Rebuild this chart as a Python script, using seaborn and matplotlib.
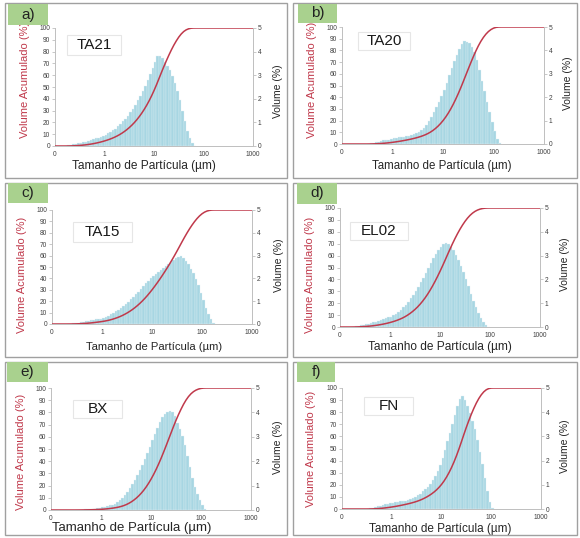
import numpy as np
import matplotlib.pyplot as plt
from matplotlib.patches import Rectangle
import seaborn as sns

# Volume (%) per size class, 20 classes per decade.
# *_from = log10 of the lower edge of the first class (µm)
ta21_from = -0.8
ta21_vol = [0.01, 0.03, 0.05, 0.07, 0.09, 0.11, 0.13, 0.16, 0.19, 0.22,
            0.25, 0.29, 0.32, 0.36, 0.40, 0.44, 0.48, 0.53, 0.59, 0.66,
            0.74, 0.83, 0.93, 1.04, 1.16, 1.29, 1.43, 1.58, 1.75, 1.93,
            2.12, 2.33, 2.55, 2.80, 3.05, 3.32, 3.58, 3.80, 3.82, 3.72,
            3.55, 3.40, 3.22, 2.95, 2.65, 2.35, 1.95, 1.50, 1.05, 0.65,
            0.35, 0.12, 0.02]

ta20_from = -0.5
ta20_vol = [0.02, 0.04, 0.06, 0.08, 0.10, 0.12, 0.15, 0.17, 0.19, 0.22,
            0.24, 0.26, 0.28, 0.30, 0.32, 0.34, 0.36, 0.39, 0.43, 0.48,
            0.53, 0.60, 0.70, 0.82, 0.97, 1.15, 1.35, 1.57, 1.80, 2.05,
            2.32, 2.62, 2.93, 3.25, 3.55, 3.80, 4.05, 4.28, 4.40, 4.38,
            4.30, 4.15, 3.92, 3.58, 3.15, 2.70, 2.25, 1.80, 1.35, 0.95,
            0.55, 0.22, 0.04]

ta15_from = -0.7
ta15_vol = [0.01, 0.02, 0.03, 0.05, 0.06, 0.08, 0.10, 0.12, 0.14, 0.16,
            0.18, 0.20, 0.21, 0.23, 0.26, 0.31, 0.37, 0.43, 0.50, 0.56,
            0.63, 0.71, 0.80, 0.89, 0.98, 1.08, 1.19, 1.31, 1.42, 1.54,
            1.66, 1.78, 1.90, 2.01, 2.11, 2.20, 2.28, 2.37, 2.45, 2.53,
            2.61, 2.70, 2.79, 2.88, 2.96, 2.97, 2.90, 2.78, 2.62, 2.43,
            2.22, 1.98, 1.70, 1.38, 1.05, 0.72, 0.42, 0.20, 0.05]

el02_from = -0.8
el02_vol = [0.01, 0.02, 0.04, 0.06, 0.08, 0.10, 0.12, 0.14, 0.17, 0.20,
            0.23, 0.26, 0.29, 0.32, 0.36, 0.40, 0.44, 0.49, 0.55, 0.62,
            0.71, 0.82, 0.94, 1.07, 1.20, 1.33, 1.50, 1.68, 1.87, 2.06,
            2.27, 2.48, 2.69, 2.89, 3.07, 3.22, 3.36, 3.48, 3.54, 3.50,
            3.38, 3.22, 3.02, 2.80, 2.56, 2.31, 2.02, 1.72, 1.40, 1.10,
            0.82, 0.58, 0.38, 0.22, 0.09, 0.02]

bx_from = -0.5
bx_vol = [0.01, 0.02, 0.02, 0.03, 0.03, 0.04, 0.05, 0.06, 0.07, 0.09,
          0.11, 0.13, 0.16, 0.19, 0.22, 0.26, 0.31, 0.39, 0.49, 0.61,
          0.75, 0.90, 1.06, 1.23, 1.42, 1.62, 1.84, 2.08, 2.34, 2.60,
          2.85, 3.10, 3.35, 3.60, 3.80, 3.95, 4.03, 4.07, 4.02, 3.85,
          3.58, 3.30, 3.05, 2.65, 2.20, 1.75, 1.32, 0.95, 0.65, 0.40,
          0.20, 0.06]

fn_from = -0.5
fn_vol = [0.02, 0.04, 0.06, 0.09, 0.11, 0.14, 0.16, 0.19, 0.21, 0.23,
          0.25, 0.27, 0.29, 0.31, 0.33, 0.35, 0.37, 0.40, 0.44, 0.49,
          0.56, 0.64, 0.73, 0.82, 0.92, 1.04, 1.18, 1.36, 1.57, 1.82,
          2.12, 2.45, 2.80, 3.15, 3.52, 3.90, 4.25, 4.55, 4.65, 4.52,
          4.25, 3.95, 3.65, 3.30, 2.85, 2.35, 1.85, 1.30, 0.75, 0.30,
          0.05]

panel_tags = ["a)", "b)", "c)", "d)", "e)", "f)"]
samples = ["TA21", "TA20", "TA15", "EL02", "BX", "FN"]
starts = [ta21_from, ta20_from, ta15_from, el02_from, bx_from, fn_from]
volumes = [ta21_vol, ta20_vol, ta15_vol, el02_vol, bx_vol, fn_vol]
step = 0.05  # class width in log10 units

xticks = [0.1, 1, 10, 100, 1000]
xtick_labels = ["0", "1", "10", "100", "1000"]

W, H = 580, 538
RED = "#c0394b"
BLUE = "#a7d6e2"
GRAY = "#bfbfbf"

# layout in pixels (top-left origin)
axes_px = [(55, 28, 253, 146), (342, 27, 544, 144),
           (52, 210, 252, 324), (340, 208, 540, 327),
           (51, 388, 251, 510), (342, 388, 541, 509)]
frames_px = [(5, 3, 287, 178), (293, 3, 577, 178),
             (5, 183, 287, 357), (293, 183, 577, 357),
             (5, 362, 287, 535), (293, 362, 577, 535)]
tags_px = [(8, 4, 48, 25), (298, 4, 337, 23),
           (8, 183, 48, 203), (297, 183, 337, 204),
           (7, 362, 48, 382), (297, 362, 335, 382)]
names_px = [(67, 35, 121, 55), (358, 32, 410, 50),
            (73, 222, 132, 242), (350, 222, 408, 240),
            (73, 400, 122, 418), (364, 397, 413, 415)]
xlab_px = [(144, 166), (442, 166), (154, 347), (440, 347), (132, 528), (440, 529)]
xlab_fs = [8.6, 8.3, 8.1, 8.6, 9.5, 8.5]
cumlab_px = [(25, 80), (312, 80), (22, 275), (310, 275), (21, 452), (311, 449)]
vollab_px = [(278, 91), (568, 83), (279, 265), (565, 264), (278, 447), (565, 446)]

sns.set_theme(style="white")
plt.rcParams["font.family"] = ["Liberation Sans", "DejaVu Sans"]

fig = plt.figure(figsize=(W / 100, H / 100), dpi=100)


def fx(x):
    return x / W


def fy(y):
    return 1 - y / H


for i in range(6):
    x0, y0, x1, y1 = frames_px[i]
    fig.patches.append(Rectangle((fx(x0), fy(y1)), fx(x1 - x0), (y1 - y0) / H,
                                 transform=fig.transFigure, fill=False,
                                 edgecolor="#a0a0a0", lw=1.0))
    x0, y0, x1, y1 = tags_px[i]
    fig.patches.append(Rectangle((fx(x0), fy(y1)), fx(x1 - x0), (y1 - y0) / H,
                                 transform=fig.transFigure, facecolor="#a9d18e",
                                 edgecolor="none"))
    fig.text(fx((x0 + x1) / 2), fy((y0 + y1) / 2), panel_tags[i],
             ha="center", va="center", fontsize=11, color="#222222")

    # histogram data
    vol = np.array(volumes[i])
    n = len(vol)
    lo = starts[i]
    centers = 10 ** (lo + step * np.arange(n) + step / 2)
    upper = 10 ** (lo + step * np.arange(1, n + 1))
    cum = np.cumsum(vol) / vol.sum() * 100
    cum_x = np.concatenate([[0.1, 10 ** lo], upper, [1000]])
    cum_y = np.concatenate([[0, 0], cum, [100]])

    x0, y0, x1, y1 = axes_px[i]
    aw, ah = x1 - x0, y1 - y0
    axv = fig.add_axes([fx(x0), fy(y1), fx(aw), ah / H])
    sns.histplot(x=centers, weights=vol, binwidth=step, binrange=(lo, lo + step * n),
                 log_scale=True, stat="count", color=BLUE, alpha=1.0,
                 edgecolor="#e3f2f6", linewidth=0.25, ax=axv)
    axc = axv.twinx()
    sns.lineplot(x=cum_x, y=cum_y, color=RED, lw=1.1, ax=axc)

    # volume on the right, cumulative on the left
    axv.yaxis.tick_right()
    axv.yaxis.set_label_position("right")
    axc.yaxis.tick_left()
    axc.yaxis.set_label_position("left")

    axv.set_xscale("log")
    axv.set_xlim(0.1, 1000)
    axv.set_ylim(0, 5)
    axc.set_ylim(0, 100)
    axv.set_xticks(xticks)
    axv.set_xticklabels(xtick_labels)
    axv.set_yticks(range(0, 6))
    axc.set_yticks(range(0, 101, 10))

    axv.set_xlabel("Tamanho de Partícula (µm)", fontsize=xlab_fs[i],
                   color="#262626", va="center")
    axv.set_ylabel("Volume (%)", fontsize=7.5, color="#262626",
                   va="center", ha="center")
    axc.set_ylabel("Volume Acumulado (%)", fontsize=8, color=RED,
                   va="center", ha="center")
    axc.set_xlabel("")
    cx, cy = xlab_px[i]
    axv.xaxis.set_label_coords((cx - x0) / aw, (y1 - cy) / ah)
    cx, cy = vollab_px[i]
    axv.yaxis.set_label_coords((cx - x0) / aw, (y1 - cy) / ah)
    cx, cy = cumlab_px[i]
    axc.yaxis.set_label_coords((cx - x0) / aw, (y1 - cy) / ah)

    for ax in (axv, axc):
        for s in ax.spines.values():
            s.set_visible(False)
        ax.tick_params(labelsize=4.8, labelcolor="#404040", color=GRAY,
                       length=2, width=0.6, pad=1.5)
        ax.tick_params(which="minor", length=1.5, width=0.5, color=GRAY)
    for s in ("left", "right", "bottom"):
        axv.spines[s].set_visible(True)
        axv.spines[s].set_color(GRAY)
        axv.spines[s].set_linewidth(0.7)
    axv.grid(False)
    axc.grid(False)

    x0, y0, x1, y1 = names_px[i]
    fig.patches.append(Rectangle((fx(x0), fy(y1)), fx(x1 - x0), (y1 - y0) / H,
                                 transform=fig.transFigure, facecolor="white",
                                 edgecolor="#e6e6e6", lw=0.8, zorder=5))
    fig.text(fx((x0 + x1) / 2), fy((y0 + y1) / 2), samples[i], ha="center",
             va="center", fontsize=11, color="#1a1a1a", zorder=6)

fig.savefig("out.png", dpi=100)
